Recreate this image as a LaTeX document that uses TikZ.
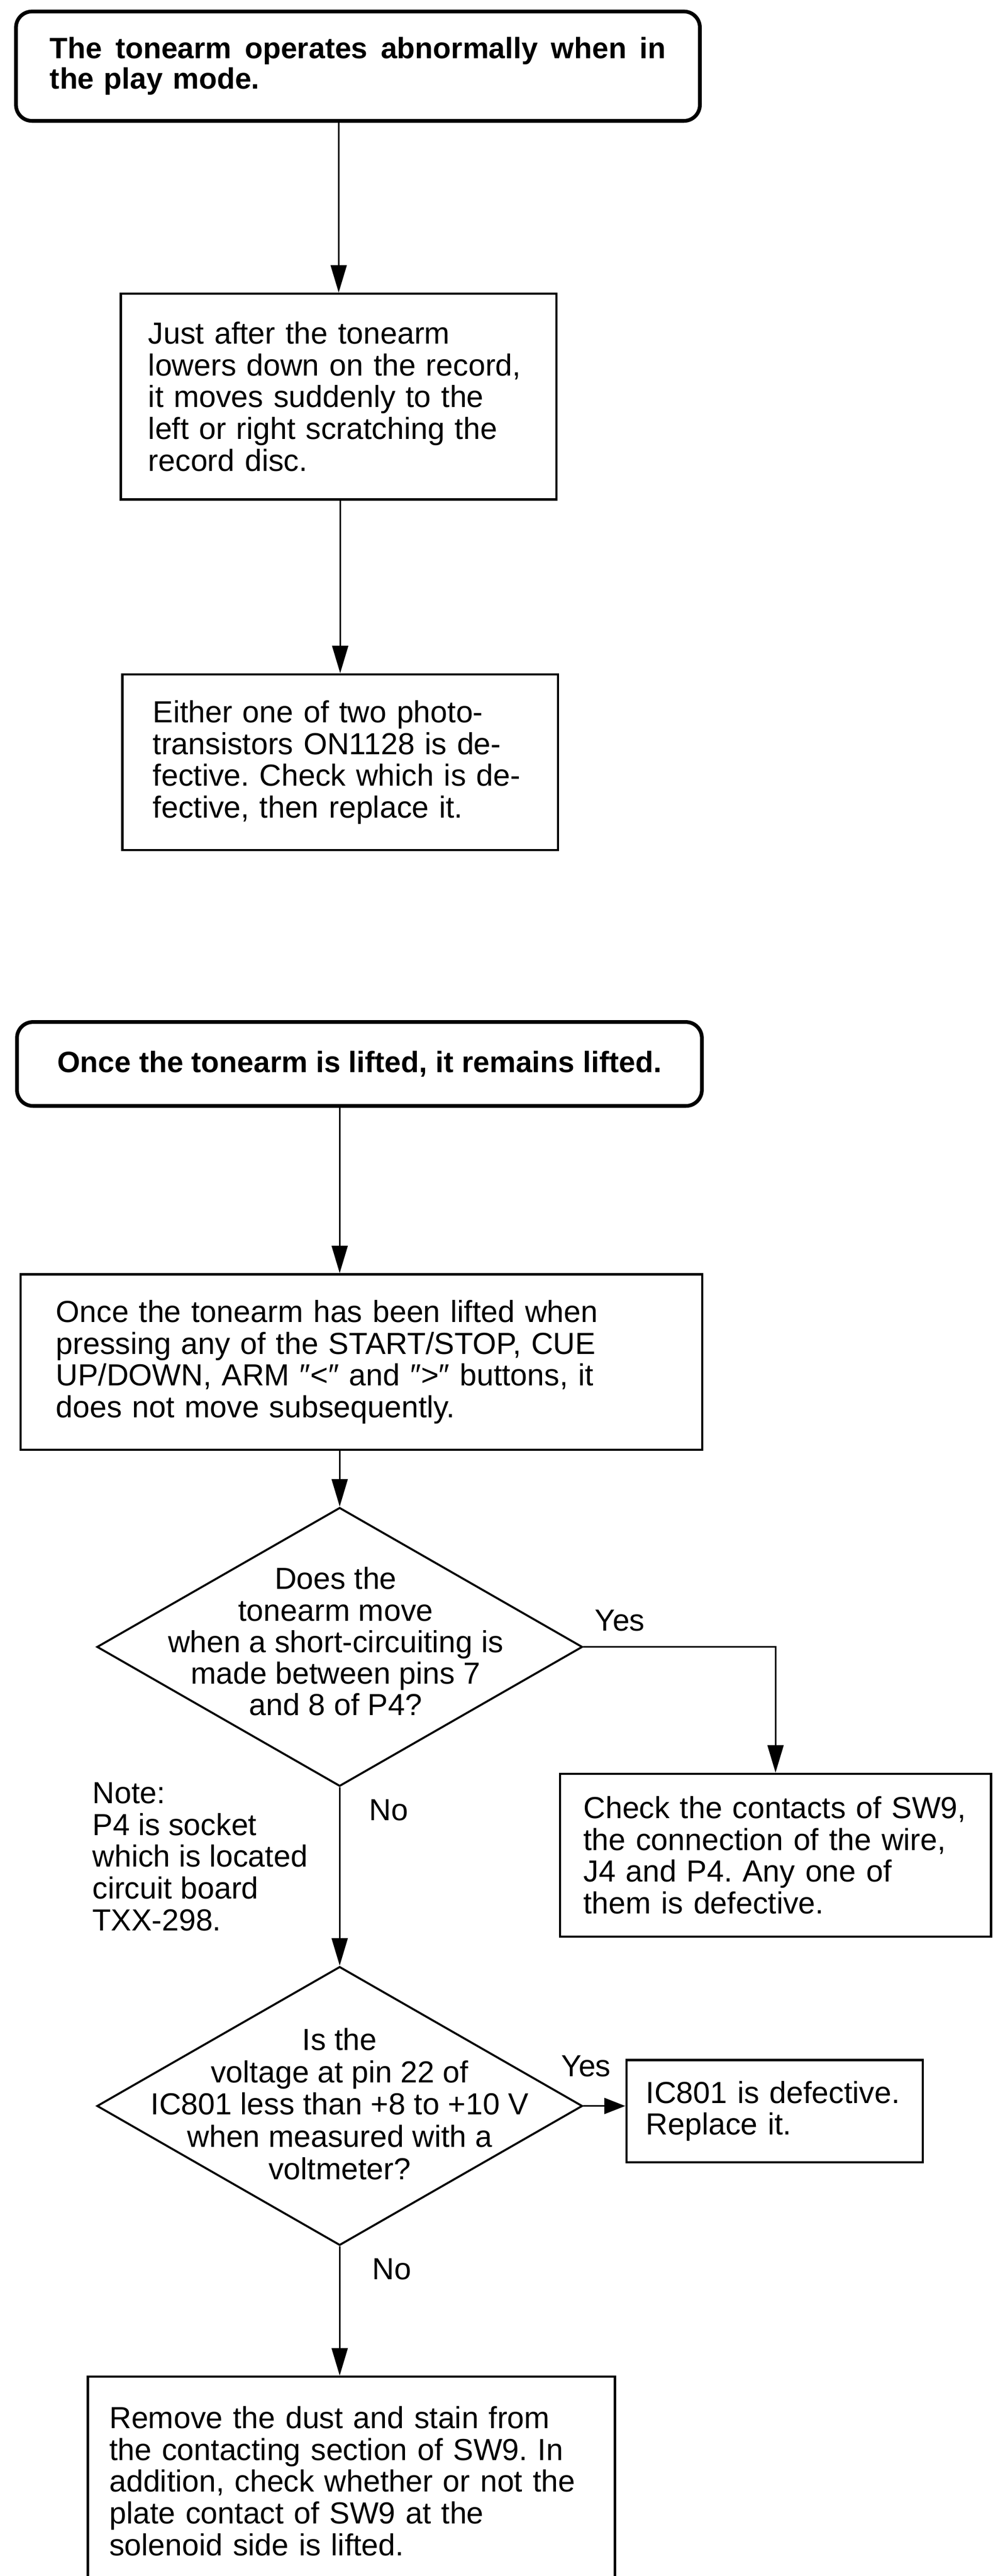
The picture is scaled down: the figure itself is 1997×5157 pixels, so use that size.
\documentclass[tikz,border=0pt]{standalone}
\usepackage{fontspec}
\setmainfont{Liberation Sans}
\usetikzlibrary{shapes.geometric,arrows.meta}
\frenchspacing
\begin{document}
\begin{tikzpicture}[x=1pt,y=-1pt,
  body/.style={font=\fontsize{61}{63.5}\selectfont},
  titlef/.style={font=\bfseries\fontsize{59}{61}\selectfont},
  box/.style={draw, line width=4.5pt, rectangle, align=left, body, inner ysep=0pt},
  rbox/.style={draw, line width=7.5pt, rectangle, rounded corners=32pt, titlef, inner ysep=0pt},
  dec/.style={draw, line width=4pt, diamond, inner sep=0pt, minimum width=972pt, minimum height=558pt},
  dtext/.style={align=center, inner sep=0pt},
  lbl/.style={body, inner sep=0pt, anchor=base west},
  arr/.style={line width=3.4pt, -{Triangle[length=55pt,width=32pt]}},
  arrs/.style={line width=3.4pt, -{Triangle[length=42pt,width=32pt]}}]
\useasboundingbox (0,0) rectangle (1997,5157);

% first chart
\node[rbox, align=left, minimum width=1369pt, minimum height=219pt, text width=1233pt, inner xsep=68pt] (t1) at (716.5,132.5)
  {\hbox to 1233pt{The\hfil tonearm\hfil operates\hfil abnormally\hfil when\hfil in}\\the play mode.};
\node[box, minimum width=872pt, minimum height=412pt, text width=762pt, inner xsep=55pt] (b2) at (678,794)
  {Just after the tonearm\\lowers down on the record,\\it moves suddenly to the\\left or right scratching the\\record disc.};
\node[box, minimum width=872pt, minimum height=352pt, text width=750pt, inner xsep=61pt] (b3) at (681,1526)
  {Either one of two photo-\\transistors ON1128 is de-\\fective. Check which is de-\\fective, then replace it.};

\draw[arr] (b2.north |- t1.south) -- (b2.north);
\draw[arr] (b3.north |- b2.south) -- (b3.north);

% second chart
\node[rbox, align=center, minimum width=1371pt, minimum height=168pt] (t2) at (719.5,2130)
  {Once the tonearm is lifted, it remains lifted.};
\node[box, minimum width=1365pt, minimum height=351pt, text width=1223pt, inner xsep=71pt] (b4) at (723.5,2726.5)
  {Once the tonearm has been lifted when\\pressing any of the START/STOP, CUE\\UP/DOWN, ARM ″<″ and ″>″ buttons, it\\does not move subsequently.};
\node[dec] (d1) at (680,3297) {};
\node[dtext, body, font=\fontsize{61}{63}\selectfont] (d1t) at (672,3286)
  {Does the\\tonearm move\\when a short-circuiting is\\made between pins 7\\and 8 of P4?};
\node[lbl] (yes1) at (1191,3265) {Yes};
\node[box, minimum width=863pt, minimum height=326pt, text width=769pt, inner xsep=47pt] (cb) at (1552.5,3714)
  {Check the contacts of SW9,\\the connection of the wire,\\J4 and P4. Any one of\\them is defective.};
\node[body, align=left, inner sep=0pt, anchor=west] (nt) at (185,3717)
  {Note:\\P4 is socket\\which is located\\circuit board\\TXX-298.};
\node[lbl] (no1) at (739,3644) {No};
\node[dec] (d2) at (680,4216) {};
\node[dtext, body, font=\fontsize{61}{64.7}\selectfont] (d2t) at (680,4212)
  {Is the\\voltage at pin 22 of\\IC801 less than +8 to +10 V\\when measured with a\\voltmeter?};
\node[lbl] (yes2) at (1123,4157) {Yes};
\node[box, minimum width=593pt, minimum height=205pt, text width=515pt, inner xsep=39pt] (ic) at (1550.5,4226.5)
  {IC801 is defective.\\Replace it.};
\node[lbl] (no2) at (745,4563) {No};
\node[box, minimum width=1055pt, minimum height=418pt, text width=969pt, inner xsep=43pt] (fb) at (703.5,4967)
  {Remove the dust and stain from\\the contacting section of SW9. In\\addition, check whether or not the\\plate contact of SW9 at the\\solenoid side is lifted.};

\draw[arr] (d1.north |- t2.south) -- (d1.north |- b4.north);
\draw[arr] (d1.north |- b4.south) -- (d1.north);
\draw[arr] (d1.east) -| (cb.north);
\draw[arr] (d1.south) -- (d2.north);
\draw[arrs] (d2.east) -- (d2.east -| ic.west);
\draw[arr] (d2.south) -- (d2.south |- fb.north);
\end{tikzpicture}
\end{document}
